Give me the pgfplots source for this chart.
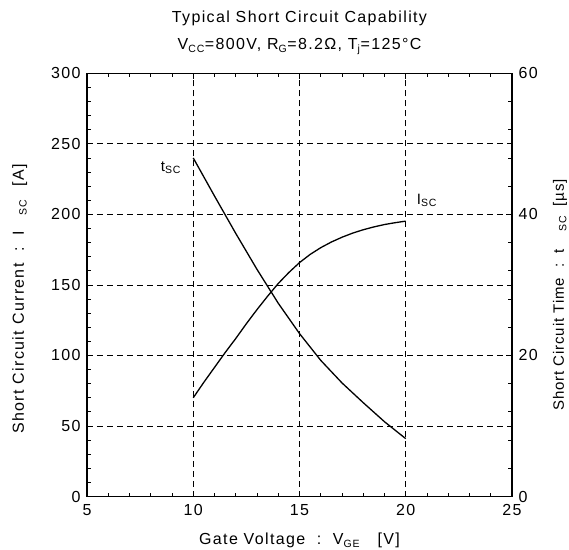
\documentclass[border=0pt]{standalone}
\usepackage{pgfplots}
\pgfplotsset{compat=1.18}
\usepackage{fontspec}
\setmainfont{Liberation Sans}[LetterSpace=8.5]
\newfontfamily\rfont{Liberation Sans}[LetterSpace=6]
\newcommand{\sub}[1]{\textsubscript{\fontsize{10.5}{12}\selectfont #1}}

\pgfplotstableread{
x    y
10   70
10.5 81
11   91.5
11.5 102
12   112
12.5 122.5
13   132.5
13.5 142
14   151
14.5 158.8
15   165.8
15.5 171.6
16   176.4
16.5 180.4
17   183.8
17.5 186.7
18   189.1
18.5 191.1
19   192.8
19.5 194.1
20   195.2
}\isc

\pgfplotstableread{
x    y
10   48.0
11   42.6
12   37.3
13   32.2
14   27.4
15   23.1
16   19.3
17   16.1
18   13.3
19   10.6
20   8.2
}\tsc

\begin{document}
\begin{tikzpicture}[font=\fontsize{16}{19}\selectfont]
\path[use as bounding box] (-87pt,-52.5pt) rectangle (482pt,496.5pt);
\pgfplotsset{
  every axis/.append style={
    scale only axis, width=425pt, height=423.2pt,
    at={(0,0)}, anchor=south west,
    xmin=5, xmax=25,
    clip mode=individual,
    axis line style={line width=1.3pt},
    every tick/.style={black, line width=0.8pt},
    major tick length=6pt, minor tick length=4pt,
    /pgf/number format/assume math mode=true,
    tick label style={font=\fontsize{16}{19}\selectfont},
  }
}
\begin{axis}[
  ymin=0, ymax=300,
  xtick={5,10,...,25}, ytick={0,50,...,300},
  minor x tick num=4, minor y tick num=4,
  ytick pos=left,
  grid=major,
  major grid style={black, line width=0.7pt, dash pattern=on 6pt off 4pt},
  xticklabel style={yshift=-4pt},
  yticklabel style={xshift=-3pt},
  xlabel={Gate Voltage\ \ :\ \ V\sub{GE}\ \ \ [V]},
  xlabel style={at={(axis description cs:0.5,-0.078)}, anchor=north},
  ylabel={Short Circuit Current\ \ :\ \ I\hspace{1.0em}\sub{SC}\hspace{0.8em}[A]},
  ylabel style={at={(axis description cs:-0.158,0.467)}, anchor=center},
]
\addplot[black, line width=1.3pt] table[x=x,y=y] {\isc};
\node[anchor=center,font=\fontsize{15}{18}\selectfont] at (axis cs:8.95,233) {t\sub{SC}};
\node[anchor=center,font=\fontsize{15}{18}\selectfont] at (axis cs:21.0,210) {I\sub{SC}};
\node[anchor=base] at (axis description cs:0.5,1.1205) {Typical Short Circuit Capability};
\node[anchor=base] at (axis description cs:0.5,1.0551) {V\sub{CC}=800V, R\sub{G}=8.2Ω, T\sub{j}=125°C};
\end{axis}
\begin{axis}[
  ymin=0, ymax=60,
  axis x line=none,
  axis y line*=right,
  ytick={0,20,40,60},
  minor y tick num=4,
  yticklabel style={xshift=3pt},
  ylabel={\rfont\fontsize{15}{18}\selectfont Short Circuit Time\ \ :\ \ t\hspace{1.2em}\sub{SC}\hspace{0.6em}[µs]},
  ylabel style={at={(axis description cs:1.113,0.476)}, anchor=center},
]
\addplot[black, line width=1.3pt] table[x=x,y=y] {\tsc};
\end{axis}
\end{tikzpicture}
\end{document}
